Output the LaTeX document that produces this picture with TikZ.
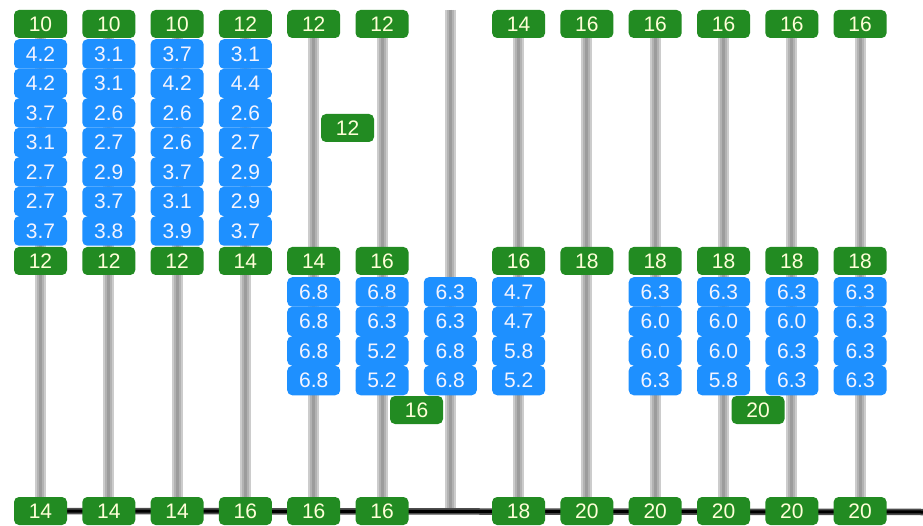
\documentclass[tikz,border=0pt]{standalone}
\usepackage{fontspec}
\setmainfont{Liberation Sans}
\usetikzlibrary{backgrounds}
\definecolor{gfill}{HTML}{228B22}
\definecolor{bfill}{HTML}{1E90FF}
\definecolor{gtext}{HTML}{FFFFD8}
\definecolor{btext}{HTML}{F4F4FF}
\tikzset{
  lab/.style={rounded corners=5pt, minimum width=53pt, inner sep=0pt, font=\fontsize{21}{21}\selectfont},
  gbox/.style={lab, fill=gfill, text=gtext, minimum height=28pt},
  bbox/.style={lab, fill=bfill, text=btext, minimum height=29.5pt},
  rod/.style={line width=11pt, draw=gray!40,
    postaction={draw=gray!60, line width=7pt},
    postaction={draw=gray!78, line width=3pt}},
  bar/.style={line width=6.5pt, draw=black!70,
    postaction={draw=black, line width=3pt}}
}
\begin{document}
\begin{tikzpicture}[x=1pt, y=-1pt]
\useasboundingbox (0,0) rectangle (923,526);
% column labels: top / middle / bottom
\foreach \i/\t/\m/\b in {1/10/12/14, 2/10/12/14, 3/10/12/14, 4/12/14/16, 5/12/14/16, 6/12/16/16, 8/14/16/18, 9/16/18/20, 10/16/18/20, 11/16/18/20, 12/16/18/20, 13/16/18/20} {
  \pgfmathsetmacro\xx{40.5+68.3*(\i-1)}
  \node[gbox] (t\i) at (\xx,24) {\t};
  \node[gbox] (m\i) at (\xx,261) {\m};
  \node[gbox] (b\i) at (\xx,511) {\b};
}
% upper blue stacks
\foreach \v [count=\k from 0] in {4.2,4.2,3.7,3.1,2.7,2.7,3.7}
  \node[bbox] (u1-\k) at (40.5,54+29.5*\k) {\v};
\foreach \v [count=\k from 0] in {3.1,3.1,2.6,2.7,2.9,3.7,3.8}
  \node[bbox] (u2-\k) at (108.8,54+29.5*\k) {\v};
\foreach \v [count=\k from 0] in {3.7,4.2,2.6,2.6,3.7,3.1,3.9}
  \node[bbox] (u3-\k) at (177.1,54+29.5*\k) {\v};
\foreach \v [count=\k from 0] in {3.1,4.4,2.6,2.7,2.9,2.9,3.7}
  \node[bbox] (u4-\k) at (245.4,54+29.5*\k) {\v};
% lower blue stacks
\foreach \v [count=\k from 0] in {6.8,6.8,6.8,6.8}
  \node[bbox] (l5-\k) at (313.7,292+29.5*\k) {\v};
\foreach \v [count=\k from 0] in {6.8,6.3,5.2,5.2}
  \node[bbox] (l6-\k) at (382,292+29.5*\k) {\v};
\foreach \v [count=\k from 0] in {6.3,6.3,6.8,6.8}
  \node[bbox] (l7-\k) at (450.3,292+29.5*\k) {\v};
\foreach \v [count=\k from 0] in {4.7,4.7,5.8,5.2}
  \node[bbox] (l8-\k) at (518.6,292+29.5*\k) {\v};
\foreach \v [count=\k from 0] in {6.3,6.0,6.0,6.3}
  \node[bbox] (l10-\k) at (655.2,292+29.5*\k) {\v};
\foreach \v [count=\k from 0] in {6.3,6.0,6.0,5.8}
  \node[bbox] (l11-\k) at (723.5,292+29.5*\k) {\v};
\foreach \v [count=\k from 0] in {6.3,6.0,6.3,6.3}
  \node[bbox] (l12-\k) at (791.8,292+29.5*\k) {\v};
\foreach \v [count=\k from 0] in {6.3,6.3,6.3,6.3}
  \node[bbox] (l13-\k) at (860.1,292+29.5*\k) {\v};
% loose labels
\node[gbox] (x12) at (347.5,128) {12};
\node[gbox] (x16) at (416.5,410) {16};
\node[gbox] (x20) at (758,410) {20};
% free ends
\coordinate (septop) at (450.3,10);
\coordinate (sepbot) at (450.3,512);
\coordinate (barend) at (923,512);
\begin{scope}[on background layer]
  \foreach \i in {1,2,3,4,5,6,8,9,10,11,12,13}
    \draw[rod] (t\i.center) -- (b\i.center);
  \draw[rod] (septop) -- (sepbot);
  \draw[bar] (b1.center) -- (barend);
\end{scope}
\end{tikzpicture}
\end{document}
